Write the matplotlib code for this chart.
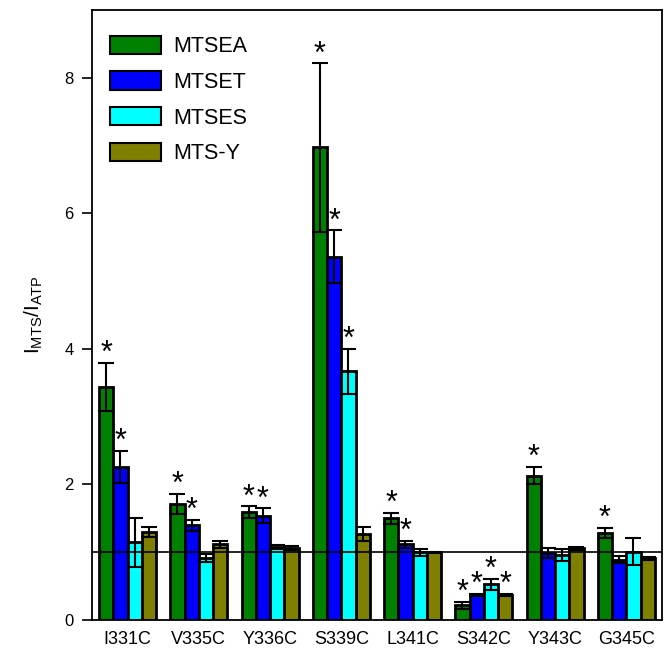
import matplotlib
matplotlib.use("Agg")
import matplotlib.pyplot as plt
import numpy as np
from matplotlib.patches import Patch

plt.rcParams['font.family'] = ['Liberation Sans', 'DejaVu Sans']
plt.rcParams['mathtext.fontset'] = 'custom'
plt.rcParams['mathtext.rm'] = 'Liberation Sans'
plt.rcParams['mathtext.it'] = 'Liberation Sans'

categories = ["I331C", "V335C", "Y336C", "S339C", "L341C", "S342C", "Y343C", "G345C"]
series = ["MTSEA", "MTSET", "MTSES", "MTS-Y"]
colors = ["#008000", "#0000FF", "#00FFFF", "#808000"]

mtsea = [3.44, 1.71, 1.59, 6.97, 1.50, 0.22, 2.13, 1.29]
mtsea_err = [0.35, 0.15, 0.09, 1.24, 0.08, 0.05, 0.13, 0.075]
mtset = [2.26, 1.40, 1.54, 5.36, 1.12, 0.37, 0.99, 0.89]
mtset_err = [0.24, 0.08, 0.11, 0.39, 0.05, 0.02, 0.08, 0.05]
mtses = [1.15, 0.92, 1.08, 3.67, 1.00, 0.53, 0.96, 1.01]
mtses_err = [0.36, 0.06, 0.03, 0.33, 0.05, 0.08, 0.09, 0.20]
mtsy = [1.30, 1.12, 1.06, 1.27, 1.00, 0.37, 1.06, 0.91]
mtsy_err = [0.08, 0.05, 0.03, 0.11, 0.01, 0.02, 0.02, 0.02]

# significance flags (1 = asterisk)
sig_mtsea = [1, 1, 1, 1, 1, 1, 1, 1]
sig_mtset = [1, 1, 1, 1, 1, 1, 0, 0]
sig_mtses = [0, 0, 0, 1, 0, 1, 0, 0]
sig_mtsy = [0, 0, 0, 0, 0, 1, 0, 0]

values = [mtsea, mtset, mtses, mtsy]
errors = [mtsea_err, mtset_err, mtses_err, mtsy_err]
sigs = [sig_mtsea, sig_mtset, sig_mtses, sig_mtsy]

fig = plt.figure(figsize=(6.66, 6.5), dpi=100)
ax = fig.add_axes([0.138, 0.046, 0.856, 0.939])

x = np.arange(len(categories))
w = 0.2
for i in range(4):
    pos = x + (i - 1.5) * w
    ax.bar(pos, values[i], width=w, color=colors[i], edgecolor="black",
           linewidth=2, zorder=2)
    ax.errorbar(pos, values[i], yerr=errors[i], fmt="none", ecolor="black",
                elinewidth=1.5, capsize=6, capthick=1.5, zorder=4)
    for j in range(len(categories)):
        if sigs[i][j]:
            ax.annotate("*", xy=(pos[j], values[i][j] + errors[i][j]),
                        xytext=(0, 0.5), textcoords="offset points",
                        ha="center", va="baseline", fontsize=22, zorder=5)

ax.axhline(1.0, color="black", linewidth=1.2, zorder=3)

ax.set_xlim(-0.5, len(categories) - 0.5)
ax.set_ylim(0, 9.0)
ax.set_yticks([0, 2, 4, 6, 8])
ax.set_xticks(x)
ax.set_xticklabels(categories, fontsize=13)
ax.tick_params(axis="x", length=0, pad=8)
ax.tick_params(axis="y", direction="out", length=7, width=1.2, labelsize=12, pad=6)
for s in ax.spines.values():
    s.set_linewidth(1.3)
ax.set_ylabel("I$_{\\mathregular{MTS}}$/I$_{\\mathregular{ATP}}$", fontsize=15, labelpad=14)

handles = [Patch(facecolor=c, edgecolor="black", linewidth=1.5) for c in colors]
ax.legend(handles, series, loc="upper left", frameon=False, fontsize=15.5,
          handlelength=2.37, handleheight=0.93, labelspacing=0.66,
          bbox_to_anchor=(-0.003, 0.9895), handletextpad=0.6)

fig.savefig("out.png", dpi=100)
